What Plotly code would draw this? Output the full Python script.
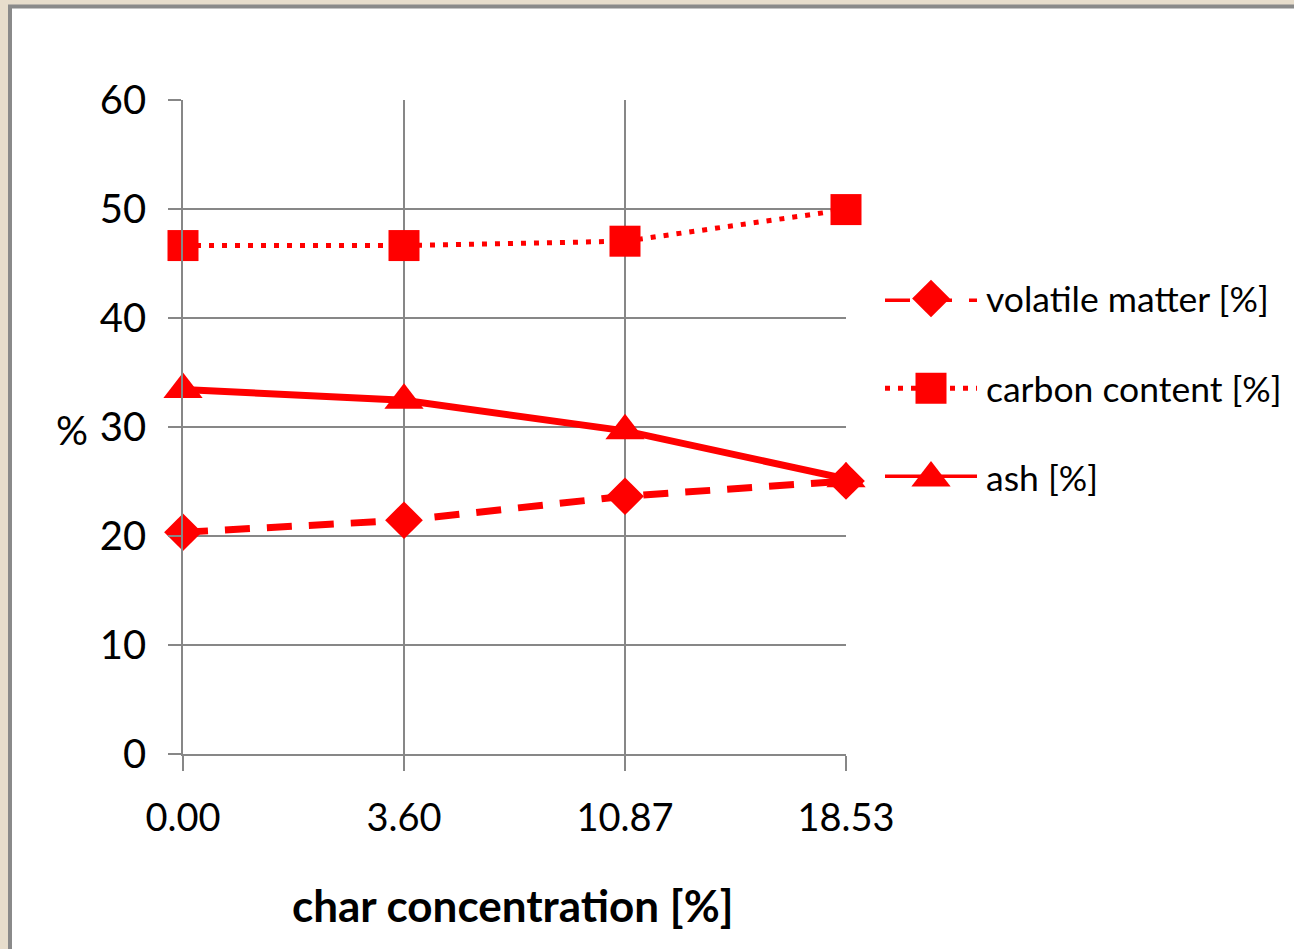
import plotly.graph_objects as go

W, H = 1294, 949

# Data
char_conc = ["0.00", "3.60", "10.87", "18.53"]
volatile_matter = [20.3, 21.4, 23.6, 25.0]
carbon_content = [46.6, 46.6, 47.0, 49.9]
ash = [33.4, 32.4, 29.6, 25.2]
y_ticks = [0, 10, 20, 30, 40, 50, 60]
series_names = ["volatile matter [%]", "carbon content [%]", "ash [%]"]

RED = "#ff0000"
GRID = "#878787"
FONT = "Lato, sans-serif"


def px(x):
    return x / W


def py(y):
    return 1 - y / H


styles = [
    dict(dash="25px,17px", width=7, symbol="diamond", size=29),
    dict(dash="5px,8px", width=5, symbol="square", size=31),
    dict(dash="solid", width=7, symbol="triangle-up", size=34),
]
series_values = [volatile_matter, carbon_content, ash]

fig = go.Figure()

for name, vals, st in zip(series_names, series_values, styles):
    fig.add_trace(go.Scatter(
        x=char_conc, y=vals, name=name, mode="lines+markers",
        line=dict(color=RED, width=st["width"], dash=st["dash"]),
        marker=dict(color=RED, symbol=st["symbol"], size=st["size"]),
        cliponaxis=False, showlegend=False,
    ))

# Hand-built legend on its own small axes
rows = [2, 1, 0]
for name, row, st in zip(series_names, rows, styles):
    fig.add_trace(go.Scatter(
        x=[0, 1], y=[row, row], mode="lines", xaxis="x2", yaxis="y2",
        line=dict(color=RED, width=st["width"], dash=st["dash"]),
        showlegend=False, hoverinfo="skip", cliponaxis=False,
    ))
    fig.add_trace(go.Scatter(
        x=[0.5], y=[row], mode="markers", xaxis="x2", yaxis="y2",
        marker=dict(color=RED, symbol=st["symbol"], size=st["size"]),
        showlegend=False, hoverinfo="skip", cliponaxis=False,
    ))

legend_y = [298.5, 388.5, 478]
annotations = [
    dict(text=name, x=px(984), y=py(yy), xref="paper", yref="paper",
         xanchor="left", yanchor="middle", showarrow=False,
         font=dict(family=FONT, size=35.5, color="black"))
    for name, yy in zip(series_names, legend_y)
]
annotations.append(dict(
    text="%", x=px(72), y=py(430), xref="paper", yref="paper",
    xanchor="center", yanchor="middle", showarrow=False,
    font=dict(family=FONT, size=40, color="black")))
annotations.append(dict(
    text="<b>char concentration [%]</b>", x=px(513), y=py(905),
    xref="paper", yref="paper", xanchor="center", yanchor="middle",
    showarrow=False, font=dict(family=FONT, size=44, color="black")))

fig.update_layout(
    width=W, height=H,
    margin=dict(l=0, r=0, t=0, b=0, pad=0, autoexpand=False),
    paper_bgcolor="#e7ddcc",
    plot_bgcolor="rgba(0,0,0,0)",
    font=dict(family=FONT, color="black"),
    showlegend=False,
    annotations=annotations,
    shapes=[dict(
        type="rect", xref="paper", yref="paper",
        x0=px(10), y0=py(6.5), x1=px(1310), y1=py(970),
        line=dict(color="#8a8a8a", width=4), fillcolor="white",
        layer="below")],
    xaxis=dict(
        type="category", domain=[px(183), px(846)], range=[0, 3],
        showgrid=True, gridcolor=GRID, gridwidth=1.5,
        ticks="outside", ticklen=15, tickcolor=GRID, tickwidth=1.5,
        showline=True, linecolor=GRID, linewidth=2, zeroline=False,
        tickfont=dict(family=FONT, size=38, color="black"),
        ticklabelstandoff=15, automargin=False, fixedrange=True,
    ),
    yaxis=dict(
        domain=[py(753.5), py(99.5)], range=[0, 60],
        tickvals=y_ticks, showgrid=True, gridcolor=GRID, gridwidth=2,
        ticks="outside", ticklen=13, tickcolor=GRID, tickwidth=2,
        showline=True, linecolor=GRID, linewidth=1.5, zeroline=False,
        tickfont=dict(family=FONT, size=40, color="black"),
        ticklabelstandoff=14, automargin=False, fixedrange=True,
    ),
    xaxis2=dict(domain=[px(885), px(977)], range=[0, 1], visible=False,
                anchor="y2", automargin=False, fixedrange=True),
    yaxis2=dict(domain=[py(478), py(298.5)], range=[0, 2], visible=False,
                anchor="x2", automargin=False, fixedrange=True),
)

fig.write_html("out.html")
